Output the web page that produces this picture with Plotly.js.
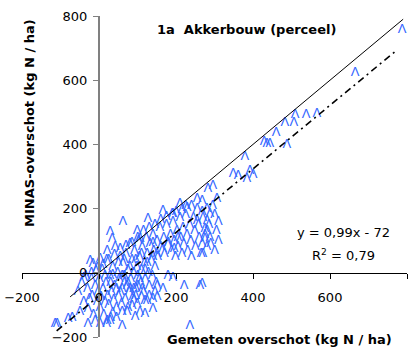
<!DOCTYPE html>
<html>
<head>
<meta charset="utf-8">
<script src="https://cdn.plot.ly/plotly-3.0.1.min.js"></script>
<style>html,body{margin:0;padding:0;background:#fff;}#chart{width:419px;height:352px;}</style>
</head>
<body>
<div id="chart"></div>
<script>
// Sparse / readable points (measured vs MINAS surplus, kg N/ha)
var sparseX = [787,665,509,538,566,483,506,460,429,436,
               444,488,379,361,348,392,400,384,296,283,
               306,268,281,275,275,236,262,221,179,192,
               151,166,140,119,99,119,106,86,112,101,
               -109,-29,62,29,34,99,107,-16,-18,-29,
               3,29,73,94,125,140,151,21,3,-114,
               -80,21,60,-23,255,268,210,229,166,192,
               127,288,255,281,288,268,268];
var sparseY = [756,622,491,491,495,467,467,435,407,401,
               401,398,361,302,308,317,305,292,271,261,
               230,190,162,137,106,-165,-40,-40,-9,-16,
               -40,-50,-81,-87,-96,-128,-121,-102,-50,-40,
               -159,-159,159,128,106,131,106,28,-72,-112,
               -159,-149,-121,-137,-87,-112,-75,68,44,-159,
               -143,-149,-165,37,230,224,215,202,193,184,
               168,184,162,131,109,90,-34];
// Dense cluster (estimated)
var denseX = [-55,-45,-40,-35,-30,-25,-20,-15,-10,-8,
              -5,-3,0,2,5,8,10,12,15,18,
              20,22,25,28,30,32,35,38,40,42,
              45,48,50,52,55,58,60,62,65,68,
              70,72,75,78,80,82,85,88,90,92,
              95,98,100,102,105,108,110,112,115,118,
              120,122,125,128,130,132,135,138,140,142,
              145,148,150,152,158,160,168,170,175,178,
              185,188,192,195,198,202,205,210,212,215,
              218,220,225,228,230,235,238,240,245,248,
              250,255,258,260,265,270,275,280,285,290,
              295,300,305,310,240,225,215,200,190,175,
              160,145,130,115,100,85,70,55,40,25,
              10,-5,-20,-40,60,75,90,45,20,-10,
              -50,-70,35,55,65,80,95,110,130,145,
              270,280,300,310,165,180,195,205,150,140,
              15,30,45,60,75,90,105,120,35,50,
              65,80,95,110,125,140];
var denseY = [-60,-30,-90,-10,-50,-80,-20,-130,-40,5,
              -90,-60,-20,-110,-75,10,-50,-130,-90,-30,
              40,-70,-100,-10,-140,-60,20,-85,-40,80,
              -110,0,-70,-20,50,-95,-50,30,-10,-80,
              60,-40,10,-60,90,-20,40,-75,0,70,
              -45,20,-10,100,50,-30,10,80,-60,30,
              -20,110,60,0,-40,90,40,-10,120,70,
              20,-30,100,50,140,80,110,60,150,90,
              120,70,160,100,50,130,80,170,110,60,
              140,90,180,120,70,150,100,50,170,130,
              80,200,150,110,60,170,120,200,150,90,
              210,180,130,160,210,210,195,190,185,175,
              165,150,140,130,110,95,85,75,55,40,
              25,15,0,-15,-120,-110,-85,-140,-160,-150,
              -120,-140,-125,-60,-30,-50,-70,-75,-70,-60,
              60,80,70,100,75,95,75,110,60,95,
              -10,-30,-50,-10,-30,-50,-20,10,-5,30,
              40,20,40,60,30,50];
// 1:1 line and regression line y = 0,99x - 72
var oneX = [-75, 790], oneY = [-75, 790];
var fitX = [-110, 770], fitY = [-181, 690];

var allX = sparseX.concat(denseX), allY = sparseY.concat(denseY);
var labels = allX.map(function(){return '\u039B';});

var traces = [
  {x: allX, y: allY, mode: 'text', text: labels, textposition: 'middle center',
   textfont: {family: 'Liberation Sans', size: 13, color: '#3366FF'}, hoverinfo: 'none', cliponaxis: false},
  {x: oneX, y: oneY, mode: 'lines', line: {color: '#000', width: 1}, hoverinfo: 'none'},
  {x: fitX, y: fitY, mode: 'lines', line: {color: '#000', width: 1.6, dash: '7px,4px,2px,4px'}, hoverinfo: 'none'}
];

var tf = {family: 'DejaVu Sans', size: 13, color: '#000'};
var layout = {
  width: 419, height: 352,
  margin: {l: 22, r: 12, t: 16, b: 15},
  paper_bgcolor: '#fff', plot_bgcolor: '#fff',
  showlegend: false,
  xaxis: {range: [-200, 800], tickvals: [-200,0,200,400,600,800], anchor: 'free', position: 0.2,
          showline: true, linecolor: '#000', linewidth: 1, ticks: 'outside', ticklen: 5, tickcolor: '#000',
          showgrid: false, zeroline: false, tickfont: tf, ticklabelstandoff: 8, fixedrange: true},
  yaxis: {range: [-200, 800], tickvals: [-200,0,200,400,600,800], anchor: 'free', position: 0.2,
          showline: true, linecolor: '#808080', linewidth: 2, ticks: 'outside', ticklen: 5, tickcolor: '#808080',
          showgrid: false, zeroline: false, tickfont: tf, ticklabelstandoff: 3, fixedrange: true},
  annotations: [
    {xref: 'paper', yref: 'paper', x: 0.582, y: 0.9595, xanchor: 'center', yanchor: 'middle', showarrow: false,
     text: '<b>1a\u00a0\u00a0Akkerbouw (perceel)</b>', font: {family: 'DejaVu Sans', size: 13, color: '#000'}},
    {xref: 'paper', yref: 'paper', x: 0.0208, y: 0.667, xanchor: 'center', yanchor: 'middle', showarrow: false,
     textangle: -90, text: '<b>MINAS-overschot (kg N / ha)</b>', font: {family: 'DejaVu Sans', size: 13, color: '#000'}},
    {xref: 'paper', yref: 'paper', x: 0.670, y: -0.0093, xanchor: 'center', yanchor: 'middle', showarrow: false,
     text: '<b>Gemeten overschot (kg N / ha)</b>', font: {family: 'DejaVu Sans', size: 13, color: '#000'}},
    {xref: 'paper', yref: 'paper', x: 0.834, y: 0.327, xanchor: 'center', yanchor: 'middle', showarrow: false,
     text: 'y = 0,99x - 72', font: {family: 'DejaVu Sans', size: 13, color: '#000'}},
    {xref: 'paper', yref: 'paper', x: 0.834, y: 0.255, xanchor: 'center', yanchor: 'middle', showarrow: false,
     text: 'R<sup>2</sup> = 0,79', font: {family: 'DejaVu Sans', size: 13, color: '#000'}}
  ]
};
Plotly.newPlot('chart', traces, layout, {staticPlot: true, displayModeBar: false});
</script>
</body>
</html>
